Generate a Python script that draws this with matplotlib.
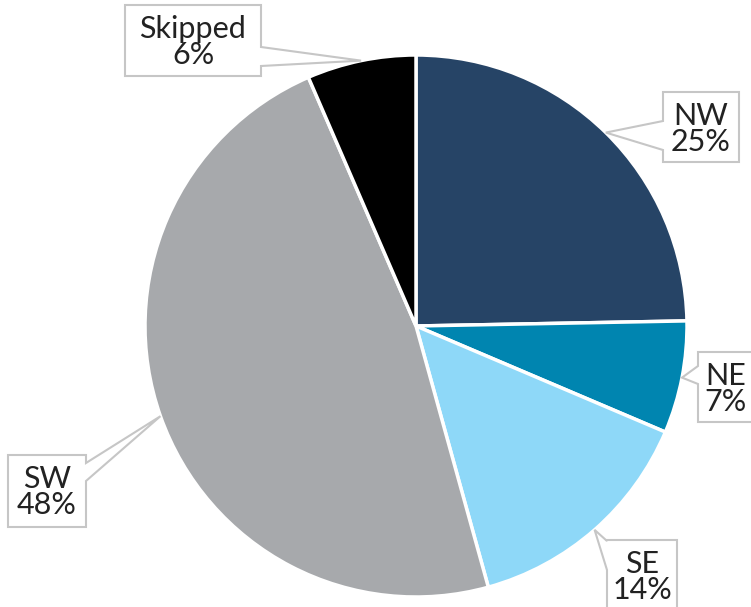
import numpy as np
import matplotlib
matplotlib.use("Agg")
from matplotlib import pyplot as plt
from matplotlib.patches import Polygon

labels = ["NW", "NE", "SE", "SW", "Skipped"]
shares = [24.7, 6.7, 14.3, 47.8, 6.5]
pct_labels = [25, 7, 14, 48, 6]
colors = ["#264466", "#0085B0", "#8ED8F8", "#A7A9AC", "#000000"]

W, H = 751, 607
cx, cy, rad = 416, 326, 271   # pie centre / radius in pixels (y from top)

# callout layout: box (left, top, right, bottom), side the pointer leaves, base points along that side
boxes = {
    "NW": ((663, 92, 739, 162), "left", (121, 150)),
    "NE": ((698, 352, 760, 422), "left", (366, 384)),
    "SE": ((607, 540, 677, 620), "left", (541, 570)),
    "SW": ((8, 455, 86, 527), "right", (463, 481)),
    "Skipped": ((125, 5, 261, 76), "right", (47, 66)),
}

plt.rcParams['font.family'] = ['Lato', 'DejaVu Sans']
fig = plt.figure(figsize=(W / 100, H / 100), dpi=100)
ax = fig.add_axes([0, 0, 1, 1])

wedges, _ = ax.pie(shares, colors=colors, startangle=90, counterclock=False,
                   center=(cx, H - cy), radius=rad,
                   wedgeprops=dict(edgecolor="white", linewidth=2.5))
ax.set_xlim(0, W)
ax.set_ylim(0, H)
ax.set_aspect("equal")
ax.axis("off")

def fy(y):
    return H - y

for w, lab, val in zip(wedges, labels, pct_labels):
    mid = np.deg2rad((w.theta1 + w.theta2) / 2)
    tx = cx + rad * np.cos(mid)
    ty = cy - rad * np.sin(mid)
    (x0, y0, x1, y1), side, (b0, b1) = boxes[lab]
    if side == "left":
        pts = [(x0, y0), (x1, y0), (x1, y1), (x0, y1), (x0, b1), (tx, ty), (x0, b0)]
    else:
        pts = [(x0, y0), (x1, y0), (x1, b0), (tx, ty), (x1, b1), (x1, y1), (x0, y1)]
    pts = [(px, fy(py)) for px, py in pts]
    ax.add_patch(Polygon(pts, closed=True, facecolor="white", edgecolor="#c6c6c6",
                         linewidth=1.5, zorder=5))
    xt = (x0 + min(x1, W)) / 2 if lab != "NE" else 726
    ax.text(xt, fy(y0 + 37), "%s\n%d%%" % (lab, val), ha="center", va="center",
            fontsize=22, color="#222222", linespacing=0.95, zorder=6)

plt.savefig("out.png", dpi=100)
